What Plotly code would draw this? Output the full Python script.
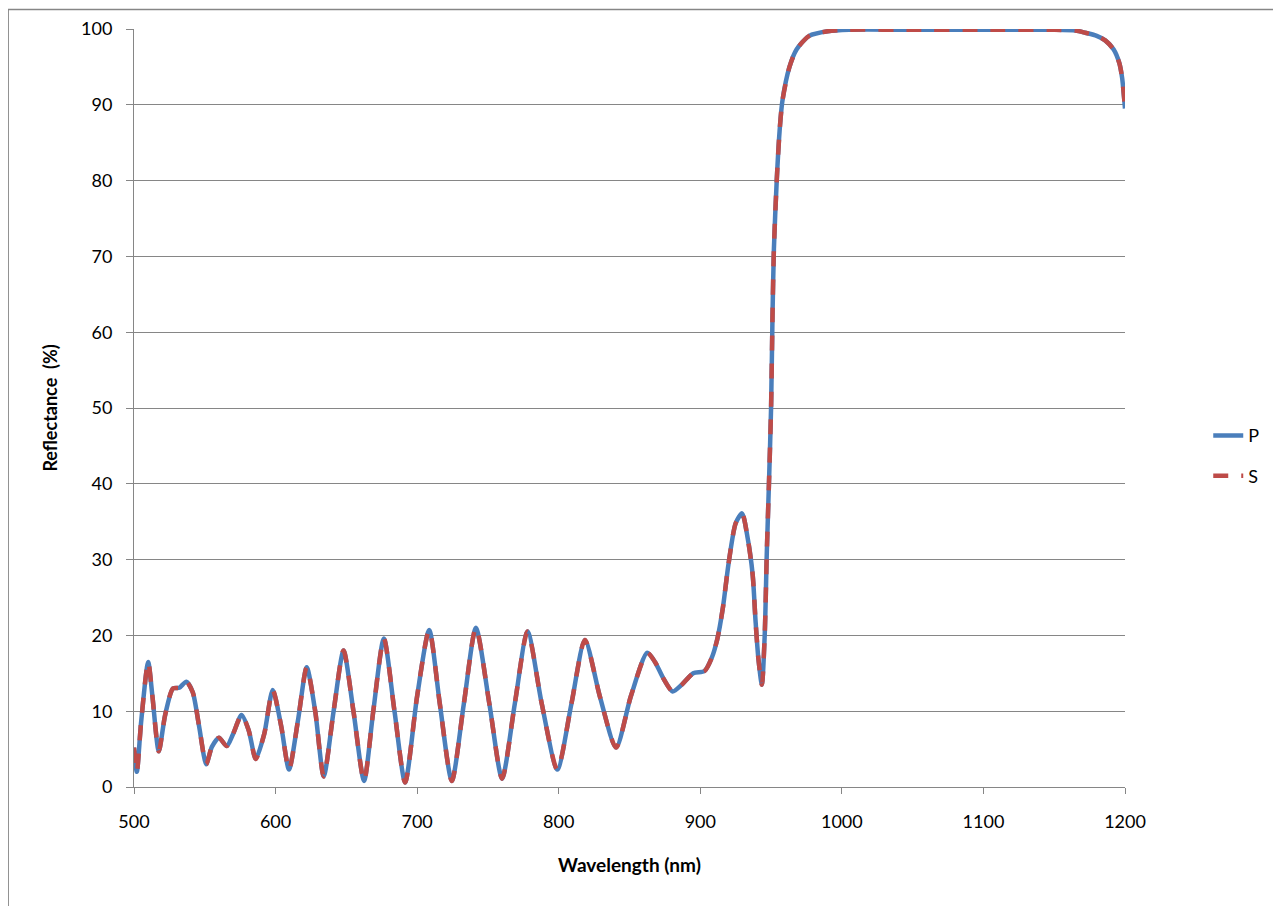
import plotly.graph_objects as go

wavelength = [500, 502, 505, 510, 513, 517.5, 522, 527.5, 532, 537, 541.5, 546, 551, 555, 560, 565.5,
              570, 576, 581, 586, 592, 598, 604, 609.5, 616, 622, 628, 634, 641, 648, 655, 662.5,
              669, 676.5, 684, 691.5, 700, 708.5, 716, 724.5, 733, 741.5, 751, 760, 769, 778, 788,
              799, 809, 818.5, 829, 840.5, 851, 862.5, 868, 874, 880.5, 887, 895, 903, 908, 912,
              916, 920, 925, 929.5, 933.5, 937, 939, 941, 943.5, 945.5, 947, 948.5, 950, 951, 952,
              954, 956, 958, 963, 968, 977, 990, 1005, 1050, 1100, 1150, 1165, 1172, 1180, 1186,
              1192, 1196, 1198, 1200]

p_reflectance = [5.2, 2.0, 8.5, 16.5, 12.0, 4.7, 9.5, 13.0, 13.1, 13.9, 12.5, 8.0, 3.0, 5.3, 6.5, 5.4,
                 7.0, 9.5, 7.5, 3.7, 7.0, 12.8, 8.0, 2.3, 9.0, 15.8, 10.0, 1.4, 10.0, 18.0, 10.0, 0.8,
                 10.0, 19.6, 10.0, 0.6, 12.0, 20.7, 11.0, 0.8, 11.0, 21.0, 11.0, 1.1, 11.0, 20.5, 11.0,
                 2.3, 11.0, 19.4, 12.0, 5.2, 12.0, 17.7, 16.5, 14.3, 12.6, 13.5, 15.0, 15.3, 17.0, 19.5,
                 23.7, 29.5, 34.8, 36.1, 32.8, 28.0, 22.0, 17.0, 13.5, 20.0, 31.0, 40.0, 50.0, 62.0, 71.0,
                 80.0, 86.5, 90.5, 95.0, 97.3, 99.1, 99.7, 99.9, 99.9, 99.9, 99.9, 99.8, 99.5, 99.1, 98.5,
                 97.3, 95.5, 93.5, 89.5]

s_reflectance = [5.2, 2.0, 8.5, 16.5, 12.0, 4.7, 9.5, 13.0, 13.1, 13.9, 12.5, 8.0, 3.0, 5.3, 6.5, 5.4,
                 7.0, 9.5, 7.5, 3.7, 7.0, 12.8, 8.0, 2.3, 9.0, 15.8, 10.0, 1.4, 10.0, 18.0, 10.0, 0.8,
                 10.0, 19.6, 10.0, 0.6, 12.0, 20.7, 11.0, 0.8, 11.0, 21.0, 11.0, 1.1, 11.0, 20.5, 11.0,
                 2.3, 11.0, 19.4, 12.0, 5.2, 12.0, 17.7, 16.5, 14.3, 12.6, 13.5, 15.0, 15.3, 17.0, 19.5,
                 23.7, 29.5, 34.8, 36.1, 32.8, 28.0, 22.0, 17.0, 13.5, 20.0, 31.0, 40.0, 50.0, 62.0, 71.0,
                 80.0, 86.5, 90.5, 95.0, 97.3, 99.1, 99.7, 99.9, 99.9, 99.9, 99.9, 99.8, 99.5, 99.1, 98.5,
                 97.3, 95.5, 93.5, 89.5]

x_ticks = [500, 600, 700, 800, 900, 1000, 1100, 1200]
y_ticks = [0, 10, 20, 30, 40, 50, 60, 70, 80, 90, 100]

FONT = "Lato, 'Open Sans', sans-serif"
GRID = "#868686"

fig = go.Figure()
fig.add_trace(go.Scatter(x=wavelength, y=p_reflectance, name="P", mode="lines", legendgroup="p",
                         line=dict(color="#4a7ebb", width=4.5, shape="spline", smoothing=0.7)))
fig.add_trace(go.Scatter(x=wavelength, y=s_reflectance, name="S", mode="lines", legendgroup="s",
                         line=dict(color="#be4b48", width=4.5, shape="spline", smoothing=0.7,
                                   dash="15px,13px")))

fig.update_layout(
    width=1281, height=906,
    margin=dict(l=126, r=164, t=21, b=127),
    paper_bgcolor="white", plot_bgcolor="white",
    font=dict(family=FONT, size=18, color="black"),
    showlegend=True,
    legend=dict(x=1.084, y=0.437, xanchor="left", yanchor="middle", tracegroupgap=14,
                font=dict(size=18), bgcolor="rgba(0,0,0,0)"),
    xaxis=dict(range=[500, 1200], tickvals=x_ticks, showgrid=False, showline=True,
               linecolor=GRID, linewidth=1, ticks="outside", ticklen=6, tickcolor=GRID,
               zeroline=False, tickfont=dict(size=18), ticklabelstandoff=12, automargin=False,
               title=dict(text="<b>Wavelength (nm)</b>", font=dict(size=19), standoff=28)),
    yaxis=dict(range=[0, 100], tickvals=y_ticks, showgrid=True, gridcolor=GRID, gridwidth=1,
               showline=True, linecolor=GRID, linewidth=1, ticks="outside", ticklen=7,
               tickcolor=GRID, zeroline=False, tickfont=dict(size=18), ticklabelstandoff=10,
               automargin=False,
               title=dict(text="<b>Reflectance  (%)</b>", font=dict(size=18), standoff=18)),
    shapes=[dict(type="rect", xref="paper", yref="paper", x0=-0.127, x1=1.3, y0=-0.3, y1=1.0257,
                 line=dict(color=GRID, width=1.5), fillcolor="rgba(0,0,0,0)", layer="below")],
)

fig.write_html("out.html")
